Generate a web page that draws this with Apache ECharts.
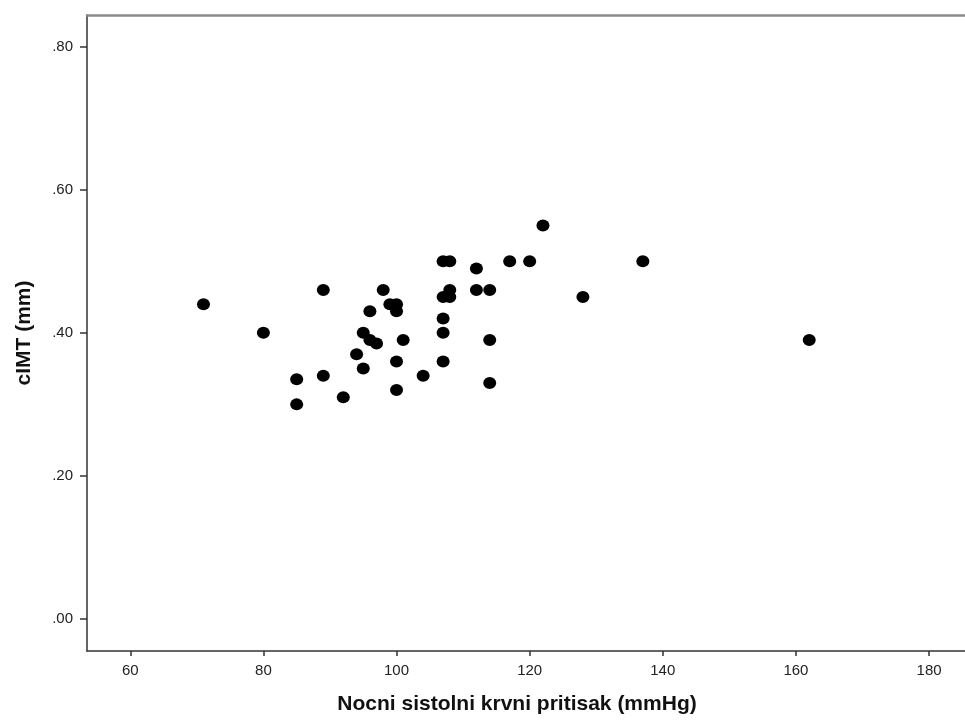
<!DOCTYPE html>
<html>
<head>
<meta charset="utf-8">
<script src="https://cdn.jsdelivr.net/npm/echarts@6/dist/echarts.min.js"></script>
<style>html,body{margin:0;padding:0;background:#fff}#c{width:965px;height:720px}</style>
</head>
<body>
<div id="c"></div>
<script>
const xTitle = 'Nocni sistolni krvni pritisak (mmHg)';
const yTitle = 'cIMT (mm)';
const xTicks = [60, 80, 100, 120, 140, 160, 180];
const yTicks = [0, 0.2, 0.4, 0.6, 0.8];
const nightSystolic = [71, 80, 85, 85, 89, 89, 92, 94, 95, 95, 96, 96, 97, 98, 99, 100, 100, 100, 100, 101, 104, 107, 108, 107, 108, 108, 107, 107, 107, 112, 112, 114, 114, 114, 117, 120, 122, 128, 137, 162];
const cimt = [0.44, 0.40, 0.335, 0.30, 0.46, 0.34, 0.31, 0.37, 0.40, 0.35, 0.43, 0.39, 0.385, 0.46, 0.44, 0.44, 0.43, 0.36, 0.32, 0.39, 0.34, 0.50, 0.50, 0.45, 0.46, 0.45, 0.42, 0.40, 0.36, 0.49, 0.46, 0.46, 0.39, 0.33, 0.50, 0.50, 0.55, 0.45, 0.50, 0.39];

const points = nightSystolic.map((x, i) => [x, cimt[i]]);
const font = 'Liberation Sans, Arial, sans-serif';
const chart = echarts.init(document.getElementById('c'));
chart.setOption({
  animation: false,
  grid: { left: 87, top: 15, right: 0, bottom: 68 },
  xAxis: [{
    type: 'value', min: 53.5, max: 185.4, position: 'bottom',
    name: xTitle, nameLocation: 'middle', nameGap: 43,
    nameTextStyle: { fontFamily: font, fontSize: 21, fontWeight: 'bold', color: '#111', padding: [0, 18, 0, 0] },
    axisLine: { show: true, onZero: false, lineStyle: { color: '#333', width: 1.5 } },
    axisTick: { show: true, customValues: xTicks, length: 5, lineStyle: { color: '#333', width: 1.5 } },
    axisLabel: { customValues: xTicks, margin: 12, fontFamily: font, fontSize: 15, color: '#222' },
    splitLine: { show: false }
  }, {
    type: 'value', min: 53.5, max: 185.4, position: 'top',
    axisLine: { show: true, onZero: false, lineStyle: { color: '#8a8a8a', width: 2.5 } },
    axisTick: { show: false }, axisLabel: { show: false }, splitLine: { show: false }
  }],
  yAxis: {
    type: 'value', min: -0.0447, max: 0.8442,
    name: yTitle, nameLocation: 'middle', nameGap: 52, nameRotate: 90,
    nameTextStyle: { fontFamily: font, fontSize: 21, fontWeight: 'bold', color: '#111' },
    axisLine: { show: true, onZero: false, lineStyle: { color: '#333', width: 1.5 } },
    axisTick: { show: true, customValues: yTicks, length: 7, lineStyle: { color: '#333', width: 1.5 } },
    axisLabel: { customValues: yTicks, margin: 14, fontFamily: font, fontSize: 15, color: '#222',
      formatter: v => v.toFixed(2).replace(/^0/, '') },
    splitLine: { show: false }
  },
  series: [{
    type: 'scatter', xAxisIndex: 0, data: points,
    symbol: 'circle', symbolSize: [13, 12],
    itemStyle: { color: '#000', opacity: 1 }
  }]
});
</script>
</body>
</html>
